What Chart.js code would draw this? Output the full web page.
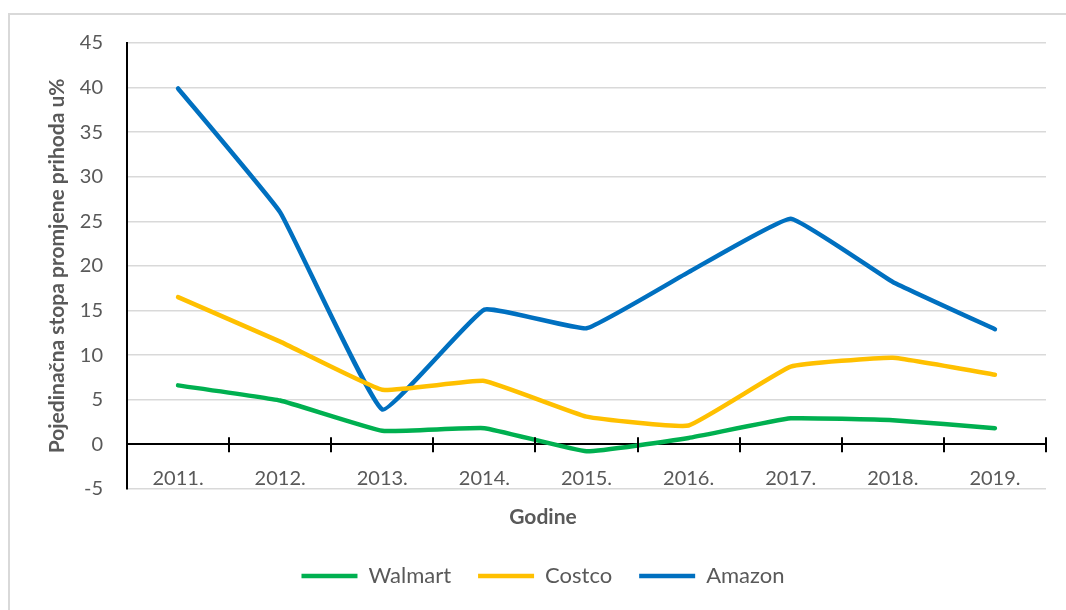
<!DOCTYPE html>
<html lang="hr">
<head>
    <meta charset="UTF-8">
    <title>Stopa promjene prihoda</title>
    <script src="https://cdn.jsdelivr.net/npm/chart.js"></script>
    <style>
        body { margin: 0; background: #fff; }
        .wrap { width: 1066px; height: 610px; position: relative; }
    </style>
</head>
<body>
    <div class="wrap"><canvas id="revenueChart"></canvas></div>
    <script>
        const years = ['2011.', '2012.', '2013.', '2014.', '2015.', '2016.', '2017.', '2018.', '2019.'];
        const walmart = [6.6, 4.9, 1.5, 1.8, -0.8, 0.7, 2.9, 2.7, 1.8];
        const costco = [16.5, 11.5, 6.1, 7.1, 3.1, 2.1, 8.7, 9.7, 7.8];
        const amazon = [39.9, 26.0, 3.9, 15.1, 13.0, 19.3, 25.3, 18.2, 12.9];
        const yTicks = [-5, 0, 5, 10, 15, 20, 25, 30, 35, 40, 45];

        const textGray = '#595959';
        const fontFamily = 'Lato, "Open Sans", sans-serif';

        // frame + crossing tick marks on the zero line
        const decorations = {
            id: 'decorations',
            beforeDraw(chart) {
                const ctx = chart.ctx;
                ctx.save();
                ctx.strokeStyle = '#d9d9d9';
                ctx.lineWidth = 2;
                ctx.beginPath();
                ctx.moveTo(9, 610);
                ctx.lineTo(9, 14);
                ctx.lineTo(1066, 14);
                ctx.stroke();
                ctx.restore();
            },
            afterDatasetsDraw(chart) {
                const ctx = chart.ctx;
                const area = chart.chartArea;
                const y0 = chart.scales.y.getPixelForValue(0);
                const step = (area.right - area.left) / years.length;
                ctx.save();
                ctx.strokeStyle = '#000';
                ctx.lineWidth = 2;
                ctx.beginPath();
                for (let i = 0; i <= years.length; i++) {
                    const x = Math.round(area.left + i * step);
                    ctx.moveTo(x, y0 - 7);
                    ctx.lineTo(x, y0 + 8);
                }
                ctx.stroke();
                ctx.restore();
            }
        };

        const lineStyle = {
            borderWidth: 4.5,
            pointRadius: 0,
            pointHoverRadius: 0,
            tension: 0.1,
            borderJoinStyle: 'round',
            borderCapStyle: 'round',
            fill: false
        };

        new Chart(document.getElementById('revenueChart'), {
            type: 'line',
            data: {
                labels: years,
                datasets: [
                    { label: 'Walmart', data: walmart, borderColor: '#00B050', backgroundColor: '#00B050', ...lineStyle },
                    { label: 'Costco', data: costco, borderColor: '#FFC000', backgroundColor: '#FFC000', ...lineStyle },
                    { label: 'Amazon', data: amazon, borderColor: '#0070C0', backgroundColor: '#0070C0', ...lineStyle }
                ]
            },
            options: {
                responsive: true,
                maintainAspectRatio: false,
                animation: false,
                layout: { padding: { left: 40, right: 20, top: 43, bottom: 13 } },
                scales: {
                    x: {
                        position: { y: 0 },
                        offset: true,
                        grid: { display: false, drawTicks: false },
                        border: { display: false },
                        ticks: {
                            color: textGray,
                            padding: 22,
                            maxRotation: 0,
                            font: { family: fontFamily, size: 20 }
                        }
                    },
                    y: {
                        min: -5,
                        max: 45,
                        afterBuildTicks(scale) {
                            scale.ticks = yTicks.map(v => ({ value: v }));
                        },
                        afterFit(scale) {
                            scale.width = 87;
                        },
                        grid: {
                            drawTicks: false,
                            color: c => (c.tick && c.tick.value === 0 ? '#000' : '#d9d9d9'),
                            lineWidth: c => (c.tick && c.tick.value === 0 ? 2 : 1.5)
                        },
                        border: { color: '#000', width: 2 },
                        ticks: {
                            color: textGray,
                            padding: 24,
                            font: { family: fontFamily, size: 20 }
                        },
                        title: {
                            display: true,
                            text: 'Pojedinačna stopa promjene prihoda u%',
                            color: textGray,
                            padding: { top: 5, bottom: 0 },
                            font: { family: fontFamily, size: 21, weight: 'bold' }
                        }
                    }
                },
                plugins: {
                    title: {
                        display: true,
                        text: 'Godine',
                        position: 'bottom',
                        weight: 500,
                        color: textGray,
                        padding: { top: 16, bottom: 8 },
                        font: { family: fontFamily, size: 21, weight: 'bold' }
                    },
                    legend: {
                        position: 'bottom',
                        labels: {
                            usePointStyle: true,
                            pointStyle: 'line',
                            pointStyleWidth: 56,
                            color: textGray,
                            padding: 27,
                            font: { family: fontFamily, size: 22 }
                        }
                    },
                    tooltip: { enabled: false }
                }
            },
            plugins: [decorations]
        });
    </script>
</body>
</html>
